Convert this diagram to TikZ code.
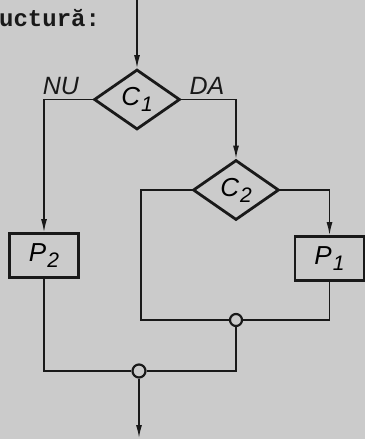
\documentclass[tikz,border=0pt]{standalone}
\usepackage{fontspec}
\setmainfont{Liberation Sans}
\newfontfamily\typew{Liberation Mono}
\usetikzlibrary{shapes.geometric,arrows.meta}
\definecolor{paper}{RGB}{203,203,203}
\definecolor{ink}{RGB}{25,25,25}
\newcommand\symlab[2]{#1\kern1pt\raisebox{-6pt}{\fontsize{21}{21}\selectfont #2}}
\begin{document}
\begin{tikzpicture}[x=1pt,y=-1pt,
  line/.style={draw=ink,line width=1.4pt},
  arr/.style={line,-{Latex[length=13pt,width=6pt]}},
  decision/.style={diamond,draw=ink,line width=2.8pt,inner sep=0pt,
    minimum width=86pt,minimum height=60pt,aspect=1.4,
    font=\fontsize{26}{26}\selectfont\itshape},
  procbox/.style={rectangle,draw=ink,line width=2.8pt,inner sep=0pt,
    minimum width=69pt,minimum height=44pt,
    font=\fontsize{26}{26}\selectfont\itshape},
  joint/.style={circle,draw=ink,line width=2.2pt,fill=paper,minimum size=12pt,inner sep=0pt},
  lbl/.style={font=\fontsize{25}{25}\selectfont\itshape,inner sep=0pt,text=ink},
]
\fill[paper] (0,0) rectangle (365,439);
\useasboundingbox (0,0) rectangle (365,439);

\node[anchor=base west,inner sep=0pt,text=ink,font=\typew\bfseries\fontsize{24}{24}\selectfont] (hdr) at (-1,27) {uctură:};

\coordinate (start) at (137,0);
\coordinate (end) at (139,438);
\coordinate (l1) at (141,320);

\node[decision] (c1) at (137,99.5) {\symlab{C}{1}};
\node[decision] (c2) at (236,190) {\symlab{C}{2}};
\node[procbox] (p2) at (44,255.5) {\symlab{P}{2}};
\node[procbox] (p1) at (329.5,258.5) {\symlab{P}{1}};
\node[joint] (j1) at (236,320) {};
\node[joint,minimum size=13pt] (j2) at (139,371) {};

\node[lbl] (nu) at (61,86) {NU};
\node[lbl] (da) at (207,86) {DA};

\draw[arr] (start) -- (c1.north);
\draw[arr] (c1.west) -| (p2.north);
\draw[arr] (c1.east) -| (c2.north);
\draw[arr] (c2.east) -| (p1.north);
\draw[line] (c2.west) -| (l1) -- (j1);
\draw[line] (p1.south) |- (j1);
\draw[line] (p2.south) |- (j2);
\draw[line] (j1.south) |- (j2.east);
\draw[arr] (j2) -- (end);
\end{tikzpicture}
\end{document}
